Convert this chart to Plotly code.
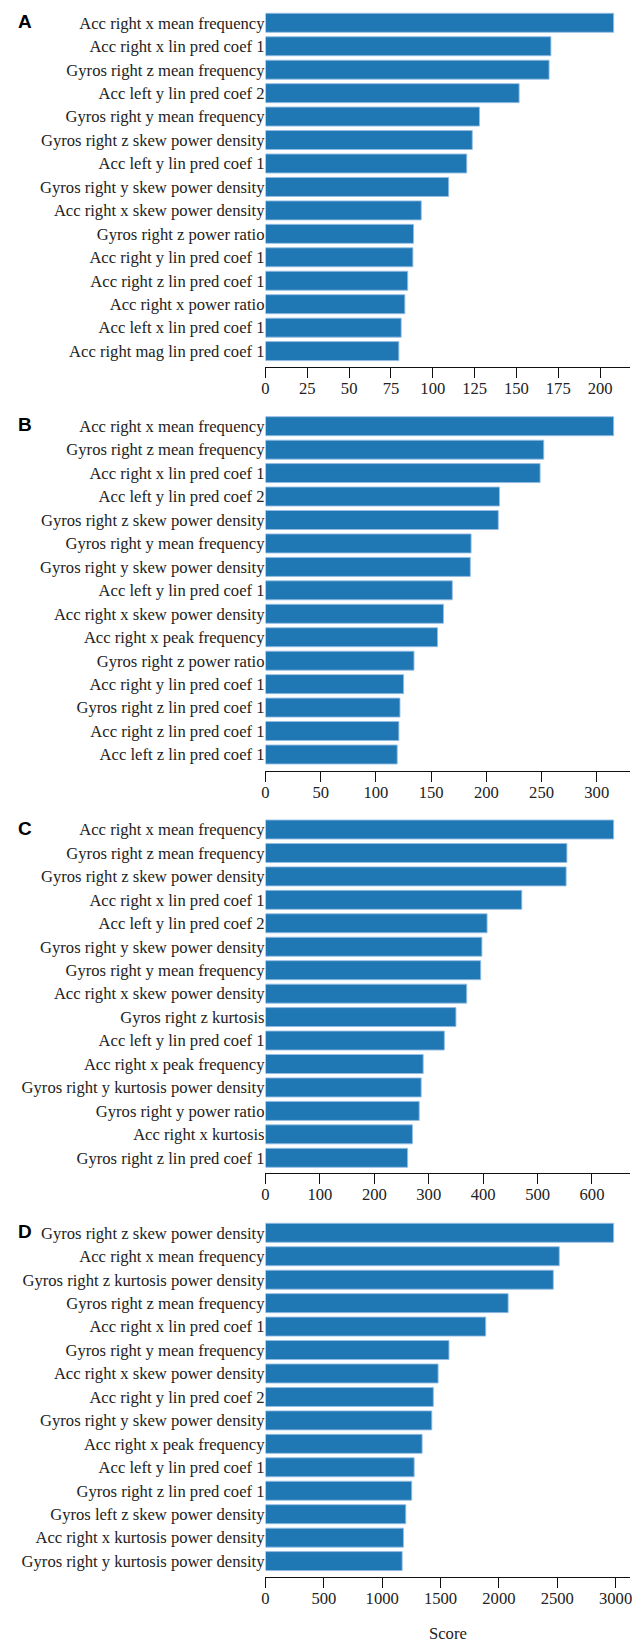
import plotly.graph_objects as go

# Feature names and scores for the four rankings (top to bottom)
labels_a = [
    "Acc right x mean frequency", "Acc right x lin pred coef 1", "Gyros right z mean frequency",
    "Acc left y lin pred coef 2", "Gyros right y mean frequency", "Gyros right z skew power density",
    "Acc left y lin pred coef 1", "Gyros right y skew power density", "Acc right x skew power density",
    "Gyros right z power ratio", "Acc right y lin pred coef 1", "Acc right z lin pred coef 1",
    "Acc right x power ratio", "Acc left x lin pred coef 1", "Acc right mag lin pred coef 1",
]
scores_a = [208.1, 170.6, 169.5, 151.6, 127.9, 123.6, 120.3, 109.5, 93.1, 88.5, 88.1, 85.0, 83.3, 81.1, 79.7]

labels_b = [
    "Acc right x mean frequency", "Gyros right z mean frequency", "Acc right x lin pred coef 1",
    "Acc left y lin pred coef 2", "Gyros right z skew power density", "Gyros right y mean frequency",
    "Gyros right y skew power density", "Acc left y lin pred coef 1", "Acc right x skew power density",
    "Acc right x peak frequency", "Gyros right z power ratio", "Acc right y lin pred coef 1",
    "Gyros right z lin pred coef 1", "Acc right z lin pred coef 1", "Acc left z lin pred coef 1",
]
scores_b = [315.3, 252.0, 248.7, 211.9, 210.8, 186.2, 185.5, 169.2, 161.2, 155.8, 134.5, 125.1, 121.8, 120.8, 119.3]

labels_c = [
    "Acc right x mean frequency", "Gyros right z mean frequency", "Gyros right z skew power density",
    "Acc right x lin pred coef 1", "Acc left y lin pred coef 2", "Gyros right y skew power density",
    "Gyros right y mean frequency", "Acc right x skew power density", "Gyros right z kurtosis",
    "Acc left y lin pred coef 1", "Acc right x peak frequency", "Gyros right y kurtosis power density",
    "Gyros right y power ratio", "Acc right x kurtosis", "Gyros right z lin pred coef 1",
]
scores_c = [639.8, 553.9, 552.5, 471.0, 407.2, 397.7, 395.5, 369.8, 350.0, 328.7, 289.8, 286.1, 282.5, 270.0, 261.2]

labels_d = [
    "Gyros right z skew power density", "Acc right x mean frequency", "Gyros right z kurtosis power density",
    "Gyros right z mean frequency", "Acc right x lin pred coef 1", "Gyros right y mean frequency",
    "Acc right x skew power density", "Acc right y lin pred coef 2", "Gyros right y skew power density",
    "Acc right x peak frequency", "Acc left y lin pred coef 1", "Gyros right z lin pred coef 1",
    "Gyros left z skew power density", "Acc right x kurtosis power density", "Gyros right y kurtosis power density",
]
scores_d = [2983, 2517, 2466, 2079, 1887, 1572, 1479, 1438, 1425, 1342, 1274, 1253, 1202, 1182, 1171]

panel_letters = ["A", "B", "C", "D"]
tick_steps = [25, 50, 100, 500]
axis_title = "Score"

panels = [
    (labels_a, scores_a),
    (labels_b, scores_b),
    (labels_c, scores_c),
    (labels_d, scores_d),
]

W, H = 632, 1644
LEFT = 264
# pixel rows: top of first bar, x-axis line
panel_px = [(13.3, 366.7), (416.7, 770.5), (820.0, 1173.3), (1223.3, 1576.5)]
BAR_COLOR = "#1f77b4"
SERIF = "Liberation Serif"
SANS = "Liberation Sans"
FS = 16.6

fig = go.Figure()
layout = dict(
    width=W, height=H,
    margin=dict(l=0, r=0, t=0, b=0),
    paper_bgcolor="white", plot_bgcolor="white",
    font=dict(family=SERIF, size=FS, color="#222"),
    showlegend=False,
    bargap=0.19,
    annotations=[],
)

for i, ((labels, scores), (top_px, axis_px)) in enumerate(zip(panels, panel_px)):
    n = i + 1
    xa = "x" if n == 1 else f"x{n}"
    ya = "y" if n == 1 else f"y{n}"
    fig.add_trace(go.Bar(
        x=scores, y=labels, orientation="h",
        xaxis=xa, yaxis=ya,
        marker=dict(color=BAR_COLOR, line=dict(color="rgba(150,190,230,0.9)", width=1)),
        hoverinfo="x+y",
    ))
    pitch = 23.45
    dom_top = top_px - pitch * 0.19 / 2
    dom_bot = axis_px
    extra = (dom_bot - dom_top) / pitch - 15.0
    xkey = "xaxis" if n == 1 else f"xaxis{n}"
    ykey = "yaxis" if n == 1 else f"yaxis{n}"
    layout[xkey] = dict(
        domain=[LEFT / W, 1.0],
        anchor=ya,
        range=[0, max(scores) * 1.047],
        tickmode="linear", dtick=tick_steps[i], tick0=0,
        showline=True, linecolor="#111", linewidth=1.3,
        ticks="outside", ticklen=10, tickwidth=1.3, tickcolor="#111",
        ticklabeloverflow="allow", ticklabelstandoff=-4,
        showgrid=False, zeroline=False,
        tickfont=dict(family=SERIF, size=FS, color="#222"),
        fixedrange=True,
    )
    layout[ykey] = dict(
        domain=[1 - dom_bot / H, 1 - dom_top / H],
        anchor=xa,
        type="category",
        range=[14.5 + extra, -0.5],
        showline=False, showgrid=False, zeroline=False,
        ticks="", ticklabelstandoff=0,
        tickfont=dict(family=SERIF, size=FS, color="#222"),
        fixedrange=True,
    )
    layout["annotations"].append(dict(
        text=f"<b>{panel_letters[i]}</b>", xref="paper", yref="paper",
        x=12 / W, y=1 - (top_px + 8) / H, xanchor="left", yanchor="middle",
        showarrow=False, font=dict(family=SANS, size=19, color="black"),
    ))

layout["annotations"].append(dict(
    text=axis_title, xref="paper", yref="paper",
    x=(LEFT + W) / 2 / W, y=1 - 1633 / H, xanchor="center", yanchor="middle",
    showarrow=False, font=dict(family=SERIF, size=FS, color="#222"),
))

fig.update_layout(**layout)
fig.write_html("out.html")
